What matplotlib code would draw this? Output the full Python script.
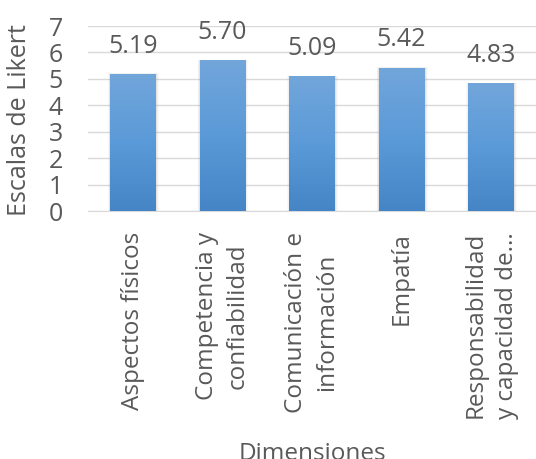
"""Promedio por dimension en escala de Likert (grafico de barras estilo Excel)."""

import matplotlib

matplotlib.use("Agg")

import matplotlib.pyplot as plt
import numpy as np
from matplotlib.colors import LinearSegmentedColormap
from matplotlib.patches import Rectangle

categories = [
    "Aspectos físicos",
    "Competencia y\nconfiabilidad",
    "Comunicación e\ninformación",
    "Empatía",
    "Responsabilidad\ny capacidad de...",
]
values = [5.19, 5.70, 5.09, 5.42, 4.83]
y_ticks = [0, 1, 2, 3, 4, 5, 6, 7]

TEXT = "#595959"
GRID = "#d9d9d9"

plt.rcParams["font.family"] = ["Open Sans", "DejaVu Sans"]

fig = plt.figure(figsize=(5.36, 4.59), dpi=100)
ax = fig.add_axes([88 / 536, 1 - 211 / 459, 448 / 536, 185 / 459])

x = np.arange(len(categories))
width = 0.51
bars = ax.bar(x, values, width=width, color="none", zorder=3)

cmap = LinearSegmentedColormap.from_list("bar", ["#4585c6", "#5b9ad8", "#72a6db"])
grad = np.linspace(0, 1, 256).reshape(-1, 1)
for bar in bars:
    bx, bw, bh = bar.get_x(), bar.get_width(), bar.get_height()
    # soft shadow around the bar
    for i, a in enumerate([0.10, 0.07, 0.04]):
        d = 0.012 * (i + 1)
        ax.add_patch(Rectangle((bx - d * 0.6, 0), bw + d * 1.6, bh + d * 0.8,
                               facecolor="#7f7f7f", edgecolor="none", alpha=a, zorder=2))
    im = ax.imshow(grad, extent=(bx, bx + bw, 0, bh), origin="lower", cmap=cmap,
                   aspect="auto", zorder=3)
    im.set_clip_path(bar)

for xi, v in zip(x, values):
    ax.annotate(f"{v:.2f}", (xi, v), xytext=(0, 20), textcoords="offset points",
                ha="center", va="center", fontsize=18, color=TEXT)

ax.set_xlim(-0.5, len(categories) - 0.5)
ax.set_ylim(0, 7)
ax.set_yticks(y_ticks)
ax.set_xticks(x)
ax.set_xticklabels(categories, rotation=90, ha="center", va="top",
                   multialignment="center", linespacing=1.4)
ax.tick_params(axis="y", length=0, pad=18, labelsize=18, labelcolor=TEXT)
ax.tick_params(axis="x", length=0, pad=15, labelsize=17.5, labelcolor=TEXT)

ax.grid(axis="y", color=GRID, linewidth=1, zorder=0)
for side in ["top", "right", "left"]:
    ax.spines[side].set_visible(False)
ax.spines["bottom"].set_color(GRID)

ax.set_ylabel("Escalas de Likert", fontsize=18, color=TEXT)
ax.yaxis.set_label_coords(-0.125, 0.49)
ax.set_xlabel("Dimensiones", fontsize=17.5, color=TEXT)
ax.xaxis.set_label_coords(0.5, (211 - 442) / 185)

fig.savefig("out.png", dpi=100)
